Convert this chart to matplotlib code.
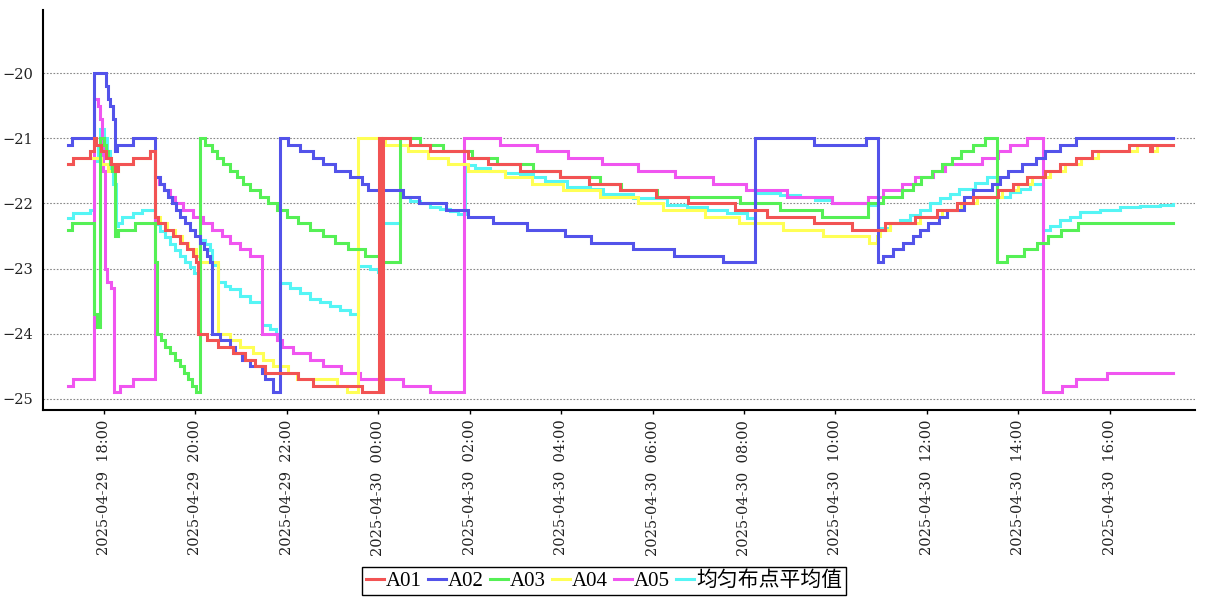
import pandas as pd
import matplotlib
matplotlib.use("Agg")
import matplotlib.pyplot as plt
import matplotlib.dates as mdates
from matplotlib.lines import Line2D

# time of each step, hours counted from 2025-04-29 00:00 (values hold until next step)
t_a01 = [17.21, 17.32, 17.69, 17.78, 17.83, 17.93, 18.04, 18.15, 18.24, 18.31,
         18.63, 19.01, 19.12, 19.18, 19.33, 19.51, 19.66, 19.82, 19.95, 20.01,
         20.06, 20.25, 20.49, 20.82, 21.08, 21.30, 21.52, 22.24, 22.57, 23.64,
         24.01, 24.06, 24.10, 24.69, 25.13, 25.96, 26.40, 27.10, 27.97, 28.61,
         29.28, 30.07, 30.77, 31.80, 32.50, 33.53, 34.36, 35.08, 35.73, 36.22,
         36.65, 37.00, 37.55, 37.88, 38.18, 38.58, 38.91, 39.26, 39.62, 40.41,
         40.87, 40.92, 41.38]
v_a01 = [-21.4, -21.3, -21.2, -21.0, -21.1, -21.2, -21.3, -21.4, -21.5, -21.4,
         -21.3, -21.2, -22.2, -22.3, -22.4, -22.5, -22.6, -22.7, -22.8, -22.9,
         -24.0, -24.1, -24.2, -24.3, -24.4, -24.5, -24.6, -24.7, -24.8, -24.9,
         -21.0, -24.9, -21.0, -21.1, -21.2, -21.3, -21.4, -21.5, -21.6, -21.7,
         -21.8, -21.9, -22.0, -22.1, -22.2, -22.3, -22.4, -22.3, -22.2, -22.1,
         -22.0, -21.9, -21.8, -21.7, -21.6, -21.5, -21.4, -21.3, -21.2, -21.1,
         -21.2, -21.1, -21.1]

t_a02 = [17.21, 17.30, 17.78, 18.04, 18.09, 18.13, 18.20, 18.24, 18.28, 18.63,
         19.12, 19.22, 19.31, 19.40, 19.49, 19.57, 19.66, 19.77, 19.88, 19.99,
         20.10, 20.19, 20.25, 20.32, 20.36, 20.54, 20.76, 20.86, 21.02, 21.19,
         21.46, 21.52, 21.70, 21.85, 22.02, 22.29, 22.57, 22.79, 23.05, 23.38,
         23.64, 23.77, 24.54, 24.89, 25.48, 25.96, 26.51, 27.25, 28.08, 28.65,
         29.57, 30.46, 31.54, 32.24, 33.53, 34.66, 34.93, 35.03, 35.25, 35.47,
         35.69, 35.84, 36.02, 36.26, 36.43, 36.82, 37.00, 37.42, 37.59, 37.77,
         38.07, 38.38, 38.58, 38.91, 39.26, 41.38]
v_a02 = [-21.1, -21.0, -20.0, -20.2, -20.4, -20.5, -20.7, -21.2, -21.1, -21.0,
         -21.6, -21.7, -21.8, -21.9, -22.0, -22.1, -22.2, -22.3, -22.4, -22.5,
         -22.6, -22.7, -22.8, -22.9, -24.0, -24.1, -24.2, -24.3, -24.4, -24.5,
         -24.6, -24.7, -24.9, -21.0, -21.1, -21.2, -21.3, -21.4, -21.5, -21.6,
         -21.7, -21.8, -21.9, -22.0, -22.1, -22.2, -22.3, -22.4, -22.5, -22.6,
         -22.7, -22.8, -22.9, -21.0, -21.1, -21.0, -22.9, -22.8, -22.7, -22.6,
         -22.5, -22.4, -22.3, -22.2, -22.1, -21.9, -21.8, -21.7, -21.6, -21.5,
         -21.4, -21.3, -21.2, -21.1, -21.0, -21.0]

t_a03 = [17.21, 17.30, 17.78, 17.85, 17.91, 18.00, 18.04, 18.09, 18.13, 18.17,
         18.24, 18.31, 18.68, 19.12, 19.16, 19.25, 19.33, 19.44, 19.55, 19.66,
         19.75, 19.84, 19.92, 20.01, 20.10, 20.21, 20.36, 20.47, 20.60, 20.76,
         20.91, 21.04, 21.19, 21.41, 21.59, 21.78, 22.00, 22.24, 22.50, 22.79,
         23.05, 23.34, 23.71, 24.04, 24.47, 24.91, 25.41, 26.05, 26.59, 27.38,
         27.97, 28.84, 29.32, 30.09, 31.91, 32.78, 33.70, 34.71, 35.03, 35.45,
         35.69, 35.88, 36.10, 36.32, 36.54, 36.75, 37.00, 37.27, 37.53, 37.75,
         38.12, 38.40, 38.64, 38.94, 39.30, 41.38]
v_a03 = [-22.4, -22.3, -23.7, -23.9, -21.0, -21.1, -21.2, -21.3, -21.4, -21.5,
         -22.5, -22.4, -22.3, -22.9, -24.0, -24.1, -24.2, -24.3, -24.4, -24.5,
         -24.6, -24.7, -24.8, -24.9, -21.0, -21.1, -21.2, -21.3, -21.4, -21.5,
         -21.6, -21.7, -21.8, -21.9, -22.0, -22.1, -22.2, -22.3, -22.4, -22.5,
         -22.6, -22.7, -22.8, -22.9, -21.0, -21.1, -21.2, -21.3, -21.4, -21.5,
         -21.6, -21.7, -21.8, -21.9, -22.0, -22.1, -22.2, -22.0, -21.9, -21.8,
         -21.7, -21.6, -21.5, -21.4, -21.3, -21.2, -21.1, -21.0, -22.9, -22.8,
         -22.7, -22.6, -22.5, -22.4, -22.3, -22.3]

t_a04 = [17.21, 17.32, 17.93, 18.09, 18.31, 18.63, 19.01, 19.12, 19.22, 19.38,
         19.55, 19.71, 19.84, 20.01, 20.10, 20.49, 20.76, 20.97, 21.26, 21.48,
         21.70, 22.02, 22.22, 23.10, 23.31, 23.55, 24.14, 24.65, 25.09, 25.52,
         25.96, 26.77, 27.36, 28.04, 28.84, 29.68, 30.22, 31.14, 31.89, 32.85,
         33.72, 34.73, 34.90, 34.97, 35.19, 35.84, 36.32, 36.75, 37.10, 37.64,
         37.99, 38.29, 38.69, 39.02, 39.37, 39.74, 40.59, 40.92, 41.03, 41.38]
v_a04 = [-21.4, -21.3, -21.4, -21.5, -21.4, -21.3, -21.2, -22.2, -22.3, -22.4,
         -22.5, -22.6, -22.7, -22.8, -22.9, -24.0, -24.1, -24.2, -24.3, -24.4,
         -24.5, -24.6, -24.7, -24.8, -24.9, -21.0, -21.1, -21.2, -21.3, -21.4,
         -21.5, -21.6, -21.7, -21.8, -21.9, -22.0, -22.1, -22.2, -22.3, -22.4,
         -22.5, -22.6, -22.5, -22.4, -22.3, -22.2, -22.1, -22.0, -21.9, -21.8,
         -21.7, -21.6, -21.5, -21.4, -21.3, -21.2, -21.1, -21.2, -21.1, -21.1]

t_a05 = [17.21, 17.32, 17.78, 17.87, 17.91, 17.96, 17.98, 18.02, 18.07, 18.15,
         18.22, 18.35, 18.63, 19.12, 19.20, 19.31, 19.44, 19.55, 19.73, 19.95,
         20.16, 20.36, 20.58, 20.76, 20.97, 21.19, 21.46, 21.78, 21.89, 22.13,
         22.50, 22.79, 23.18, 23.60, 24.54, 25.13, 25.87, 26.66, 27.47, 28.15,
         28.89, 29.68, 30.49, 31.32, 32.04, 32.94, 33.92, 34.71, 35.03, 35.45,
         35.73, 36.13, 36.39, 37.20, 37.55, 37.81, 38.18, 38.53, 38.96, 39.26,
         39.93, 41.38]
v_a05 = [-24.8, -24.7, -20.4, -20.5, -20.7, -21.0, -21.5, -23.0, -23.2, -23.3,
         -24.9, -24.8, -24.7, -21.6, -21.7, -21.8, -21.9, -22.0, -22.1, -22.2,
         -22.3, -22.4, -22.5, -22.6, -22.7, -22.8, -24.0, -24.1, -24.2, -24.3,
         -24.4, -24.5, -24.6, -24.7, -24.8, -24.9, -21.0, -21.1, -21.2, -21.3,
         -21.4, -21.5, -21.6, -21.7, -21.8, -21.9, -22.0, -21.9, -21.8, -21.7,
         -21.6, -21.5, -21.4, -21.3, -21.2, -21.1, -21.0, -24.9, -24.8, -24.7,
         -24.6, -24.6]

# average of the evenly placed points
t_avg = [17.21, 17.32, 17.69, 17.78, 17.87, 17.91, 18.00, 18.07, 18.13, 18.20,
         18.26, 18.31, 18.39, 18.63, 18.83, 19.12, 19.22, 19.33, 19.44, 19.55,
         19.66, 19.77, 19.88, 19.97, 20.06, 20.10, 20.21, 20.32, 20.36, 20.49,
         20.65, 20.76, 20.97, 21.19, 21.46, 21.63, 21.76, 21.85, 22.07, 22.29,
         22.50, 22.72, 22.94, 23.16, 23.38, 23.55, 23.82, 23.99, 24.06, 24.47,
         24.69, 24.91, 25.13, 25.35, 25.57, 25.74, 25.89, 26.11, 26.44, 26.77,
         27.10, 27.38, 27.64, 28.12, 28.63, 28.91, 29.57, 30.31, 30.75, 31.19,
         31.62, 32.06, 32.24, 32.78, 33.22, 33.55, 33.92, 34.71, 34.93, 35.19,
         35.41, 35.62, 35.84, 36.06, 36.28, 36.50, 36.71, 37.05, 37.31, 37.53,
         37.81, 38.03, 38.25, 38.53, 38.69, 38.91, 39.12, 39.34, 39.78, 40.22,
         40.66, 41.09, 41.38]
v_avg = [-22.22, -22.15, -22.10, -21.35, -21.10, -20.85, -21.00, -21.20, -21.45, -21.70,
         -22.35, -22.30, -22.20, -22.15, -22.10, -22.32, -22.42, -22.52, -22.62, -22.72,
         -22.80, -22.90, -22.98, -23.06, -23.34, -22.56, -22.62, -22.72, -22.95, -23.20,
         -23.27, -23.32, -23.42, -23.52, -23.86, -23.92, -24.00, -23.22, -23.30, -23.38,
         -23.46, -23.52, -23.58, -23.64, -23.70, -22.96, -23.00, -23.05, -22.30, -21.90,
         -21.96, -22.00, -22.05, -22.08, -22.12, -22.16, -21.41, -21.45, -21.50, -21.53,
         -21.55, -21.60, -21.65, -21.74, -21.78, -21.85, -21.92, -22.02, -22.05, -22.10,
         -22.15, -22.22, -21.84, -21.87, -21.90, -21.95, -22.00, -22.02, -22.37, -22.30,
         -22.25, -22.18, -22.10, -22.00, -21.92, -21.85, -21.77, -21.68, -21.60, -21.90,
         -21.83, -21.77, -21.70, -22.40, -22.35, -22.25, -22.20, -22.13, -22.10, -22.06,
         -22.04, -22.02, -22.01]

labels = ["A01", "A02", "A03", "A04", "A05", "均匀布点平均值"]
colors = ["#f25353", "#5353ea", "#55f055", "#ffff55", "#f055f0", "#55f5f5"]
series = [(t_a01, v_a01), (t_a02, v_a02), (t_a03, v_a03),
          (t_a04, v_a04), (t_a05, v_a05), (t_avg, v_avg)]

start = pd.Timestamp("2025-04-29 00:00")

def to_time(hours):
    return start + pd.to_timedelta(hours, unit="h")

fig = plt.figure(figsize=(12.07, 6.0), dpi=100)
ax = fig.add_axes([0.0356, 0.3167, 0.9544, 0.6666])

# first series on top, average at the bottom
for i, (t, v) in enumerate(series):
    ax.plot(to_time(t), v, drawstyle="steps-post", color=colors[i],
            lw=2.2, zorder=10 - i, solid_joinstyle="miter")

ax.set_ylim(-25.17, -19.03)
ax.set_yticks([-25, -24, -23, -22, -21, -20])
ax.set_xlim(to_time(16.67), to_time(41.86))

ax.yaxis.grid(True, linestyle=(0, (1.5, 1.5)), color="#888888", lw=0.8, zorder=0)

ax.xaxis.set_major_locator(mdates.HourLocator(byhour=range(0, 24, 2)))
ax.xaxis.set_major_formatter(mdates.DateFormatter("%Y-%m-%d  %H:%M"))

for s in ["top", "right"]:
    ax.spines[s].set_visible(False)
ax.spines["left"].set_linewidth(1.5)
ax.spines["bottom"].set_linewidth(1.5)

ax.tick_params(axis="x", length=3, width=1, pad=4, labelrotation=90)
ax.tick_params(axis="y", length=0, pad=7)
for lab in ax.get_xticklabels() + ax.get_yticklabels():
    lab.set_fontfamily("DejaVu Serif")
    lab.set_fontsize(10.5)
    lab.set_color("#222222")

# legend below the axis
handles = [Line2D([], [], color=c, lw=2.2) for c in colors]
leg = fig.legend(handles, labels, loc="center", bbox_to_anchor=(0.5004, 0.031),
                 ncol=6, frameon=True, fancybox=False, framealpha=1,
                 edgecolor="black", handlelength=0.85, handletextpad=0.1,
                 columnspacing=0.3, borderpad=0.2,
                 prop={"family": ["Liberation Serif", "Noto Sans CJK SC"], "size": 15})
leg.get_frame().set_linewidth(1.0)

fig.savefig("out.png", dpi=100)
